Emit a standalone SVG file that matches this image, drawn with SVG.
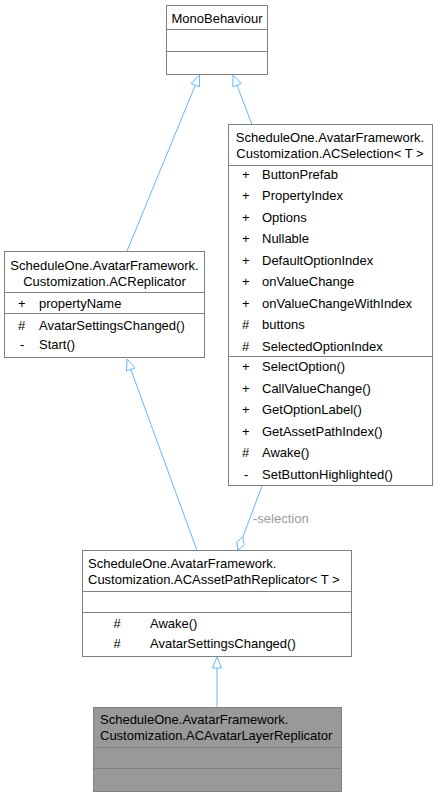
<svg xmlns="http://www.w3.org/2000/svg" width="437" height="797" viewBox="0 0 437 797">
<style>
.box{fill:#ffffff;stroke:#808080;stroke-width:1}
.gbox{fill:#999999;stroke:#808080;stroke-width:1}
.sep{stroke:#808080;stroke-width:1;fill:none}
text{font-family:"Liberation Sans",Arial,sans-serif;font-size:13px;fill:#000000}
.c{text-anchor:middle}
.edge{stroke:#63b8ff;stroke-width:1;fill:none}
.head{fill:#ffffff;stroke:#63b8ff;stroke-width:1}
.lbl{fill:#9a9a9a}
</style>
<rect width="437" height="797" fill="#ffffff"/>
<g id="connectors">
  <path class="edge" d="M127,251 L195.3,85.2"/>
  <polygon class="head" points="199.5,75 199.5,86.9 191.1,83.5"/>
  <path class="edge" d="M252,124.5 L237,85.3"/>
  <polygon class="head" points="233,75 241.2,83.6 232.8,86.9"/>
  <path class="edge" d="M197,550.5 L130.75,369.3"/>
  <polygon class="head" points="127,359 135,367.8 126.5,370.9"/>
  <path class="edge" d="M217,706.5 L217,668"/>
  <polygon class="head" points="217,657 221.5,668 212.5,668"/>
  <path class="edge" d="M262,486 L242.9,536.9"/>
  <polygon class="head" points="238,550 236.7,542 242.9,536.9 244.2,544.8"/>
  <text class="lbl" x="253" y="523">-selection</text>
</g>
<g id="MonoBehaviour">
  <rect class="box" x="166.5" y="5.5" width="101" height="69"/>
  <path class="sep" d="M166.5,29.5 H267.5 M166.5,51.5 H267.5"/>
  <text class="c" x="217" y="22.5">MonoBehaviour</text>
</g>
<g id="ACSelection">
  <rect class="box" x="228.5" y="124.5" width="204" height="361"/>
  <path class="sep" d="M228.5,165.5 H432.5 M228.5,356.5 H432.5"/>
  <text class="c" x="330" y="142">ScheduleOne.AvatarFramework.</text>
  <text class="c" x="330" y="158">Customization.ACSelection&lt; T &gt;</text>
  <g>
    <text x="242" y="178.5">+</text><text x="262" y="178.5">ButtonPrefab</text>
    <text x="242" y="200">+</text><text x="262" y="200">PropertyIndex</text>
    <text x="242" y="221.5">+</text><text x="262" y="221.5">Options</text>
    <text x="242" y="243">+</text><text x="262" y="243">Nullable</text>
    <text x="242" y="264.5">+</text><text x="262" y="264.5">DefaultOptionIndex</text>
    <text x="242" y="286">+</text><text x="262" y="286">onValueChange</text>
    <text x="242" y="307.5">+</text><text x="262" y="307.5">onValueChangeWithIndex</text>
    <text x="242" y="329">#</text><text x="262" y="329">buttons</text>
    <text x="242" y="350.5">#</text><text x="262" y="350.5">SelectedOptionIndex</text>
    <text x="242" y="371">+</text><text x="262" y="371">SelectOption()</text>
    <text x="242" y="392.5">+</text><text x="262" y="392.5">CallValueChange()</text>
    <text x="242" y="414">+</text><text x="262" y="414">GetOptionLabel()</text>
    <text x="242" y="435.5">+</text><text x="262" y="435.5">GetAssetPathIndex()</text>
    <text x="242" y="457">#</text><text x="262" y="457">Awake()</text>
    <text x="244" y="478.5">-</text><text x="262" y="478.5">SetButtonHighlighted()</text>
  </g>
</g>
<g id="ACReplicator">
  <rect class="box" x="4.5" y="251.5" width="200" height="106"/>
  <path class="sep" d="M4.5,292.5 H204.5 M4.5,313.5 H204.5"/>
  <text class="c" x="104.5" y="270">ScheduleOne.AvatarFramework.</text>
  <text class="c" x="104.5" y="286">Customization.ACReplicator</text>
  <text x="18" y="308">+</text><text x="39" y="308">propertyName</text>
  <text x="18" y="330">#</text><text x="39" y="330">AvatarSettingsChanged()</text>
  <text x="20" y="349">-</text><text x="39" y="349">Start()</text>
</g>
<g id="ACAssetPathReplicator">
  <rect class="box" x="82.5" y="550.5" width="269" height="106"/>
  <path class="sep" d="M82.5,591.5 H351.5 M82.5,612.5 H351.5"/>
  <text x="88" y="568">ScheduleOne.AvatarFramework.</text>
  <text x="88" y="584">Customization.ACAssetPathReplicator&lt; T &gt;</text>
  <text class="c" x="117" y="628">#</text><text x="150" y="628">Awake()</text>
  <text class="c" x="117" y="648">#</text><text x="150" y="648">AvatarSettingsChanged()</text>
</g>
<g id="ACAvatarLayerReplicator">
  <rect class="gbox" x="93.5" y="707.5" width="248" height="84"/>
  <path class="sep" d="M93.5,747.5 H341.5 M93.5,768.5 H341.5"/>
  <text x="100" y="724">ScheduleOne.AvatarFramework.</text>
  <text x="100" y="740">Customization.ACAvatarLayerReplicator</text>
</g>
</svg>
